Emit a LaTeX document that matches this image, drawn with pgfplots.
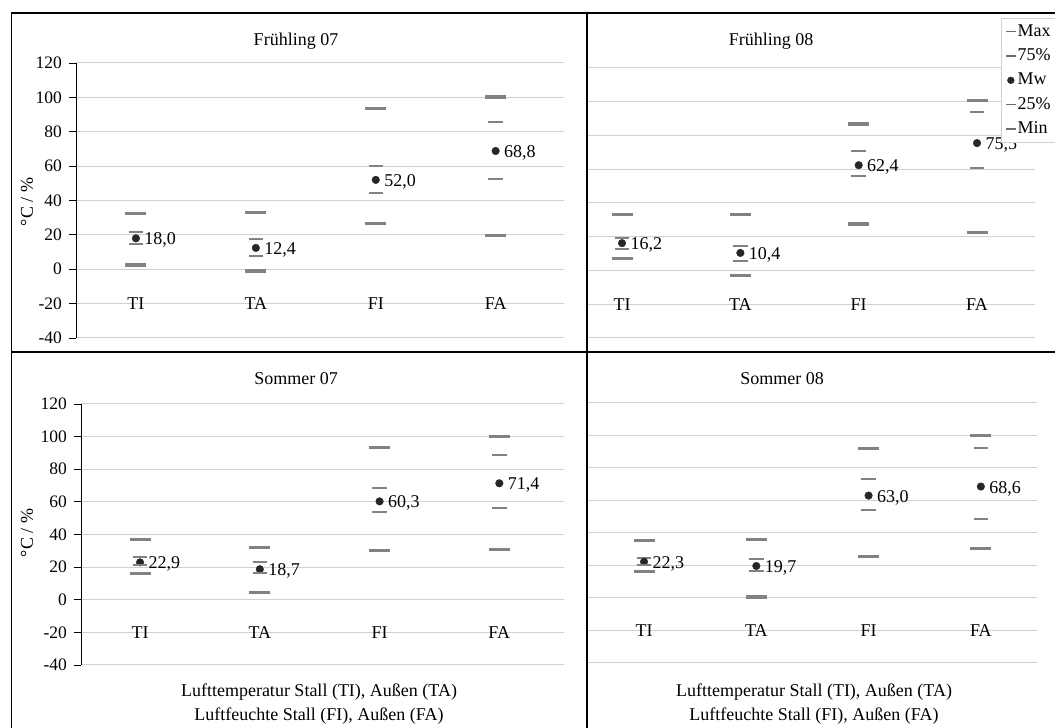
\documentclass[border=0pt]{standalone}
\usepackage{pgfplots}
\pgfplotsset{compat=1.18}
\usepackage{pgfplotstable}
\usepackage{fontspec}
\setmainfont{Liberation Serif}
\definecolor{bargray}{HTML}{828282}
\definecolor{leggray}{HTML}{6E6E6E}
\definecolor{dotcol}{HTML}{262626}
\definecolor{gridc}{HTML}{D0D0D0}

% x: category index (0=TI,1=TA,2=FI,3=FA)
\pgfplotstableread{
x max q75 mw q25 min
0 32.2 21.5 18.0 14.9 2.5
1 32.9 17.4 12.4 7.8 -1.0
2 93.6 60.1 52.0 44.6 26.4
3 100.2 85.9 68.8 52.7 19.6
}\FrA
\pgfplotstableread{
x max q75 mw q25 min
0 33.0 19.1 16.2 12.5 7.2
1 33.0 14.7 10.4 5.6 -2.8
2 86.8 70.6 62.4 55.7 27.5
3 100.8 94.0 75.5 60.9 22.7
}\FrB
\pgfplotstableread{
x max q75 mw q25 min
0 36.7 25.9 22.9 21.0 16.1
1 32.0 22.9 18.7 16.3 4.5
2 93.1 68.8 60.3 53.5 30.2
3 100.0 88.8 71.4 56.5 30.8
}\SoA
\pgfplotstableread{
x max q75 mw q25 min
0 35.3 24.7 22.3 20.6 16.1
1 35.9 24.3 19.7 16.5 0.6
2 92.2 73.1 63.0 54.1 25.7
3 100.2 92.2 68.6 48.6 30.4
}\SoB

\newcommand\fnt{\fontsize{18}{21}\selectfont}
\newcommand\tfnt{\fontsize{17.5}{20}\selectfont}

\pgfplotsset{
  panel/.style={
    scale only axis, anchor=south west,
    ymin=-40, ymax=120, ytick={-40,-20,...,120},
    xtick=\empty,
    axis x line=none,
    axis y line*=left,
    ymajorgrids, grid style={gridc, line width=1pt},
    /pgf/number format/assume math mode=true,
    clip=false,
  },
  leftpanel/.style={
    y axis line style={black, line width=0.9pt},
    ytick style={black, line width=0.9pt},
    tick align=outside, major tick length=6.5pt,
    yticklabels={-40,-20,0,20,40,60,80,100,120},
    yticklabel style={font=\tfnt, anchor=east, xshift=-4pt},
  },
  rightpanel/.style={
    y axis line style={draw=none},
    ytick style={draw=none},
    yticklabels={},
  },
  pmax/.style={forget plot, only marks, mark=-, mark size=10.5pt, mark options={draw=bargray, line width=3.2pt}},
  pq/.style={forget plot, only marks, mark=-, mark size=7.2pt, mark options={draw=bargray, line width=2pt}},
  pmw/.style={forget plot, only marks, mark=*, mark size=3.8pt, mark options={draw=dotcol, fill=dotcol},
    point meta=y,
    nodes near coords={\pgfmathprintnumber[fixed,fixed zerofill,precision=1,use comma]{\pgfplotspointmeta}},
    every node near coord/.append style={anchor=west, xshift=5pt, yshift=-2pt, font=\fnt, text=black}},
}

\newcommand\series[1]{%
  \addplot[pmax] table[x=x,y=max]{#1};
  \addplot[pq] table[x=x,y=q75]{#1};
  \addplot[pmw] table[x=x,y=mw]{#1};
  \addplot[pq] table[x=x,y=q25]{#1};
  \addplot[pmax] table[x=x,y=min]{#1};
  \node[font=\fnt] at (axis cs:0,-20) {TI};
  \node[font=\fnt] at (axis cs:1,-20) {TA};
  \node[font=\fnt] at (axis cs:2,-20) {FI};
  \node[font=\fnt] at (axis cs:3,-20) {FA};
}

\begin{document}
\begin{tikzpicture}[font=\fnt]
\useasboundingbox (0pt,0pt) rectangle (1055pt,728pt);

% Frühling 07
\begin{axis}[panel, leftpanel, at={(76pt,390pt)}, width=488pt, height=275pt, xmin=-0.5, xmax=3.57]
\series{\FrA}
\end{axis}

% Frühling 08
\begin{axis}[panel, rightpanel, at={(587pt,390pt)}, width=448pt, height=270pt, xmin=-0.296, xmax=3.49,
  legend style={at={(0.924,1.185)}, anchor=north west, draw=gridc, fill=white,
    font=\fontsize{18}{21}\selectfont, inner xsep=4pt, inner ysep=5pt, row sep=7.3pt,
    nodes={inner sep=1pt, text height=12pt, text depth=3pt},
    cells={anchor=west}},
  legend cell align=left]
\series{\FrB}
\addlegendimage{legend image code/.code={\draw[leggray, line width=1.4pt] (0pt,0pt) -- (10pt,0pt);}}
\addlegendentry{Max}
\addlegendimage{legend image code/.code={\draw[leggray, line width=1.4pt] (0pt,0pt) -- (10pt,0pt);}}
\addlegendentry{75\%}
\addlegendimage{legend image code/.code={\fill[dotcol] (5pt,0pt) circle (3.4pt);}}
\addlegendentry{Mw}
\addlegendimage{legend image code/.code={\draw[leggray, line width=1.4pt] (0pt,0pt) -- (10pt,0pt);}}
\addlegendentry{25\%}
\addlegendimage{legend image code/.code={\draw[leggray, line width=1.4pt] (0pt,0pt) -- (10pt,0pt);}}
\addlegendentry{Min}
\end{axis}

% Sommer 07
\begin{axis}[panel, leftpanel, at={(81pt,63pt)}, width=483pt, height=261pt, xmin=-0.493, xmax=3.54]
\series{\SoA}
\end{axis}

% Sommer 08
\begin{axis}[panel, rightpanel, at={(587pt,65pt)}, width=450pt, height=260pt, xmin=-0.508, xmax=3.5]
\series{\SoB}
\end{axis}

% titles and labels
\node at (296pt,687pt) {Frühling 07};
\node at (771pt,687pt) {Frühling 08};
\node at (296pt,349pt) {Sommer 07};
\node at (782pt,349pt) {Sommer 08};
\node[rotate=90] at (27pt,526pt) {°C / \%};
\node[rotate=90] at (27pt,195pt) {°C / \%};
\node at (319pt,36pt) {Lufttemperatur Stall (TI), Außen (TA)};
\node at (319pt,12pt) {Luftfeuchte Stall (FI), Außen (FA)};
\node at (814pt,36pt) {Lufttemperatur Stall (TI), Außen (TA)};
\node at (814pt,12pt) {Luftfeuchte Stall (FI), Außen (FA)};

% frame
\draw[line width=1.2pt] (11.7pt,0pt) -- (11.7pt,715pt) -- (1055pt,715pt);
\draw[line width=1.2pt] (11.7pt,376pt) -- (1055pt,376pt);
\draw[line width=1.2pt] (587pt,0pt) -- (587pt,715pt);
\end{tikzpicture}
\end{document}
